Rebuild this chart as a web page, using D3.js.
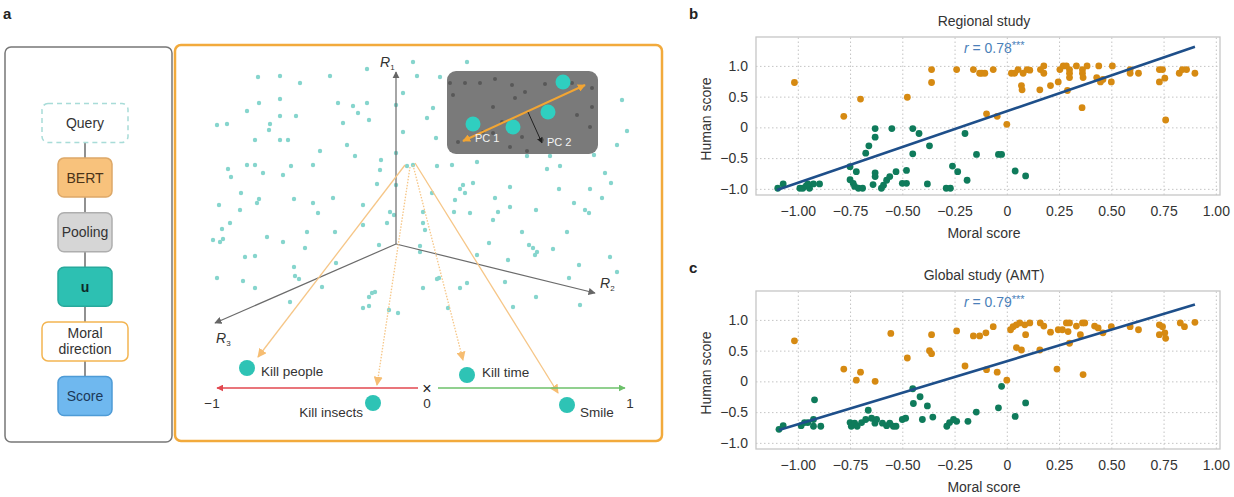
<!DOCTYPE html>
<meta charset="utf-8">
<style>
    body { margin: 0; background: #fff; }
    svg text { font-family: "Liberation Sans", Arial, sans-serif; fill: #333; }
    .ticks text { font-size: 14px; fill: #333; }
    .ticks .domain { display: none; }
    .grid line { stroke: #c4c4c4; stroke-dasharray: 1.5, 2.5; }
    .grid .domain { display: none; }
</style>
<body>
<svg id="fig" width="1234" height="497"></svg>
<script src="https://cdn.jsdelivr.net/npm/d3@7"></script>
<script>

// ---- panel a: pipeline ----
var pipelineSteps = ["Query", "BERT", "Pooling", "u", "Moral direction", "Score"];

// ---- panel a: embedding space (local units of the panel, 487 x 396) ----
var cloudDots = [
    [238,17],[292,17],[192,24],[83,32],[105,31],[155,31],[125,38],[242,31],[265,32],[84,58],
    [105,54],[163,58],[178,61],[192,58],[72,66],[105,71],[121,71],[183,68],[194,75],[228,48],
    [258,63],[252,73],[42,80],[52,79],[95,79],[94,85],[168,78],[80,95],[105,95],[113,95],
    [172,100],[228,87],[261,93],[447,55],[452,86],[442,100],[419,110],[352,111],[375,111],[145,106],
    [180,111],[72,120],[80,120],[53,124],[56,132],[88,128],[108,130],[116,121],[138,120],[206,115],
    [205,125],[221,108],[232,121],[238,120],[262,121],[277,120],[302,117],[335,142],[372,124],[385,121],
    [415,144],[430,128],[436,138],[285,144],[288,140],[290,148],[298,138],[66,148],[84,154],[82,158],
    [119,154],[138,158],[158,153],[202,139],[257,148],[280,155],[320,153],[335,162],[384,144],[399,158],
    [410,165],[414,168],[427,153],[44,160],[65,165],[143,168],[188,160],[215,167],[248,167],[279,167],
    [295,168],[323,167],[361,165],[47,184],[55,178],[92,192],[108,197],[132,187],[160,187],[130,203],
    [38,195],[45,197],[48,194],[188,180],[212,178],[248,178],[250,185],[318,175],[347,187],[392,187],
    [314,198],[354,200],[358,203],[362,207],[378,204],[404,220],[435,212],[70,212],[80,211],[119,222],
    [161,218],[204,200],[245,201],[264,233],[333,215],[394,233],[42,233],[442,227],[68,236],[80,243],
    [120,231],[124,234],[147,242],[200,247],[197,248],[194,252],[188,263],[194,261],[214,265],[223,268],
    [115,257],[248,243],[262,234],[273,263],[285,243],[292,238],[330,237],[361,252],[338,262],[405,260],
    [360,210],[302,210],[245,207],[221,60],[221,140],[219,170]
];
var insetDots = [
    [275,38],[290,38],[305,38],[320,34],[337,40],[350,47],[370,39],[397,38],[417,43],[278,50],
    [340,53],[318,62],[402,70],[417,62],[327,77],[415,82],[308,87],[318,88],[347,92],[283,97],
    [335,102],[367,95],[352,106]
];
var insetSamples = [[388,37],[373,67],[338,82],[298,79]];
var axisOrigin = [221, 199];
var axisEnds = [
    {name: "1", end: [221, 27], label: [205, 22]},
    {name: "2", end: [420, 248], label: [425, 243]},
    {name: "3", end: [40, 278], label: [41, 298]}
];
var queries = [
    {text: "Kill people", from: [230,120], to: [83,312], dot: [72,323], dotted: false},
    {text: "Kill insects", from: [235,122], to: [202,340], dot: [198,358], dotted: true},
    {text: "Kill time", from: [238,120], to: [288,315], dot: [292,330], dotted: true},
    {text: "Smile", from: [240,118], to: [383,348], dot: [392,360], dotted: false}
];

// ---- panels b, c ----
var xTicks = [-1, -0.75, -0.5, -0.25, 0, 0.25, 0.5, 0.75, 1];
var yTicks = [-1, -0.5, 0, 0.5, 1];

var regionalHigh = [
    [-1.016,0.73],[-0.78,0.18],[-0.70,0.46],[-0.476,0.49],[-0.36,0.94],[-0.36,0.73],[-0.24,0.94],[-0.16,0.94],
    [-0.13,0.88],[-0.12,0.88],[-0.105,0.88],[-0.065,0.94],[-0.097,0.22],[-0.046,0.18],[0.0,0.05],[0.022,0.88],
    [0.038,0.88],[0.054,0.94],[0.078,0.88],[0.097,0.94],[0.11,0.93],[0.07,0.68],[0.073,0.61],[0.158,0.61],
    [0.161,0.94],[0.177,1.0],[0.177,0.88],[0.209,0.68],[0.246,0.74],[0.254,0.94],[0.27,1.0],[0.285,1.0],
    [0.30,0.94],[0.29,0.60],[0.30,0.88],[0.30,0.81],[0.333,1.0],[0.362,0.94],[0.362,0.88],[0.365,0.81],
    [0.384,1.0],[0.36,0.32],[0.43,0.81],[0.44,1.0],[0.448,0.74],[0.46,0.78],[0.505,1.0],[0.50,0.74],
    [0.59,0.94],[0.59,0.88],[0.63,0.88],[0.73,0.94],[0.745,0.94],[0.73,0.74],[0.756,0.80],[0.76,0.12],
    [0.825,0.88],[0.84,0.94],[0.86,0.94],[0.90,0.88]
];
var regionalLow = [
    [-1.096,-0.99],[-1.07,-0.92],[-0.99,-0.99],[-0.976,-0.99],[-0.96,-0.95],[-0.944,-0.99],[-0.925,-0.92],
    [-0.896,-0.92],[-0.952,-0.92],[-0.75,-0.64],[-0.75,-0.85],[-0.735,-0.91],[-0.72,-0.72],[-0.728,-0.96],
    [-0.71,-0.99],[-0.69,-0.99],[-0.675,-0.42],[-0.66,-0.30],[-0.64,-0.93],[-0.63,-0.16],[-0.63,-0.02],
    [-0.63,-0.74],[-0.63,-0.80],[-0.60,-0.99],[-0.59,-0.94],[-0.575,-0.86],[-0.56,-0.80],[-0.55,-0.02],
    [-0.53,-0.72],[-0.50,-0.91],[-0.48,-0.91],[-0.48,-0.70],[-0.45,-0.43],[-0.45,-0.02],[-0.42,-0.10],
    [-0.38,-0.92],[-0.37,-0.30],[-0.29,-0.99],[-0.27,-0.99],[-0.26,-0.63],[-0.235,-0.72],[-0.20,-0.10],
    [-0.19,-0.86],[-0.145,-0.44],[-0.04,-0.44],[-0.025,-0.44],[0.04,-0.71],[0.09,-0.79]
];
var regionalFit = [[-1.1, -1.02], [0.9, 1.31]];

var globalHigh = [
    [-1.016,0.66],[-0.78,0.20],[-0.72,0.02],[-0.70,0.15],[-0.63,0.0],[-0.555,0.78],[-0.476,0.38],[-0.37,0.50],
    [-0.36,0.45],[-0.36,0.76],[-0.24,0.82],[-0.20,0.25],[-0.16,0.74],[-0.13,0.74],[-0.10,0.79],[-0.065,0.89],
    [-0.097,0.19],[-0.046,0.15],[0.0,0.02],[0.018,0.84],[0.03,0.89],[0.046,0.92],[0.062,0.95],[0.086,0.92],
    [0.11,0.95],[0.09,0.76],[0.046,0.55],[0.07,0.51],[0.158,0.51],[0.16,0.95],[0.177,0.90],[0.209,0.80],
    [0.246,0.84],[0.266,0.84],[0.285,0.95],[0.293,0.81],[0.30,0.95],[0.24,0.20],[0.30,0.62],[0.333,0.90],
    [0.352,0.76],[0.362,0.95],[0.373,0.95],[0.365,0.11],[0.42,0.90],[0.437,0.87],[0.46,0.79],[0.50,0.89],
    [0.59,0.89],[0.63,0.84],[0.73,0.92],[0.745,0.89],[0.73,0.76],[0.76,0.70],[0.756,0.79],[0.83,0.95],
    [0.85,0.89],[0.90,0.96]
];
var globalLow = [
    [-1.09,-0.78],[-1.07,-0.72],[-0.984,-0.72],[-0.968,-0.67],[-0.952,-0.67],[-0.925,-0.73],[-0.89,-0.73],
    [-0.92,-0.30],[-0.925,-0.62],[-0.75,-0.67],[-0.744,-0.73],[-0.728,-0.68],[-0.716,-0.73],[-0.695,-0.67],
    [-0.675,-0.62],[-0.663,-0.47],[-0.647,-0.60],[-0.631,-0.68],[-0.623,-0.62],[-0.595,-0.68],[-0.575,-0.72],
    [-0.56,-0.68],[-0.543,-0.73],[-0.53,-0.73],[-0.50,-0.62],[-0.484,-0.60],[-0.45,-0.12],[-0.447,-0.36],
    [-0.415,-0.25],[-0.404,-0.62],[-0.38,-0.40],[-0.354,-0.58],[-0.287,-0.73],[-0.274,-0.67],[-0.255,-0.62],
    [-0.24,-0.65],[-0.186,-0.65],[-0.146,-0.50],[-0.04,-0.43],[-0.025,-0.08],[0.04,-0.57],[0.09,-0.35]
];
var globalFit = [[-1.09, -0.79], [0.9, 1.25]];


var svg = d3.select("#fig");
var defs = svg.append("defs");

function marker(id, color, size) {
    defs.append("marker")
        .attr("id", id)
        .attr("viewBox", "0 0 10 10")
        .attr("refX", 9).attr("refY", 5)
        .attr("markerWidth", size).attr("markerHeight", size)
        .attr("orient", "auto-start-reverse")
        .append("path")
        .attr("d", "M0,0L10,5L0,10z")
        .attr("fill", color);
}
marker("arrGrey", "#666", 6);
marker("arrOrange", "#f6bd72", 7);
marker("arrPC1", "#f2a533", 4);
marker("arrBlack", "#222", 6);
marker("arrRed", "#e2474f", 5);
marker("arrGreen", "#6cc06a", 5);

// panel letters
svg.append("text").attr("x", 3).attr("y", 19).text("a").style("font-weight", "bold").style("font-size", "15px").style("fill", "#222");
svg.append("text").attr("x", 689).attr("y", 19).text("b").style("font-weight", "bold").style("font-size", "15px").style("fill", "#222");
svg.append("text").attr("x", 689).attr("y", 273).text("c").style("font-weight", "bold").style("font-size", "15px").style("fill", "#222");

// ---------------- pipeline box ----------------
var stepStyle = {
    "Query":           {fill: "#fff",    stroke: "#a8dcd8", text: "#333", dash: "5,4", wide: true},
    "BERT":            {fill: "#f8c27c", stroke: "#dda868", text: "#4a3318"},
    "Pooling":         {fill: "#d6d6d6", stroke: "#aeaeae", text: "#333"},
    "u":               {fill: "#2dc0b2", stroke: "#27a99c", text: "#0d2a28", bold: true},
    "Moral direction": {fill: "#fff",    stroke: "#f3b552", text: "#333", wide: true},
    "Score":           {fill: "#6fb8ef", stroke: "#4e9bd6", text: "#1c3858"}
};

var left = svg.append("g");
left.append("rect")
    .attr("x", 5).attr("y", 47).attr("width", 167).attr("height", 395).attr("rx", 6)
    .attr("fill", "none").attr("stroke", "#777").attr("stroke-width", 1.5);

var py = d3.scalePoint().domain(pipelineSteps).range([123, 396]);
var cx = 85;

left.append("line")
    .attr("x1", cx).attr("x2", cx)
    .attr("y1", py(pipelineSteps[0])).attr("y2", py(pipelineSteps[pipelineSteps.length - 1]))
    .attr("stroke", "#555").attr("stroke-width", 1.3);

var steps = left.selectAll("g.step").data(pipelineSteps).join("g")
    .attr("class", "step")
    .attr("transform", function (d) { return "translate(" + cx + "," + py(d) + ")"; });

steps.append("rect")
    .attr("x", function (d) { return stepStyle[d].wide ? -43 : -27; })
    .attr("width", function (d) { return stepStyle[d].wide ? 86 : 54; })
    .attr("y", -19.5).attr("height", 39).attr("rx", 6)
    .attr("fill", function (d) { return stepStyle[d].fill; })
    .attr("stroke", function (d) { return stepStyle[d].stroke; })
    .attr("stroke-width", 1.5)
    .attr("stroke-dasharray", function (d) { return stepStyle[d].dash || null; });

steps.each(function (d) {
    var words = d == "Moral direction" ? ["Moral", "direction"] : [d];
    var t = d3.select(this).append("text")
        .attr("text-anchor", "middle")
        .style("font-size", "14px")
        .style("fill", stepStyle[d].text)
        .style("font-weight", stepStyle[d].bold ? "bold" : null);
    words.forEach(function (w, i) {
        t.append("tspan").attr("x", 0)
            .attr("y", (i - (words.length - 1) / 2) * 16)
            .attr("dy", "0.35em").text(w);
    });
});

// ---------------- embedding panel ----------------
var ax = d3.scaleLinear().domain([0, 487]).range([175, 662]);
var ay = d3.scaleLinear().domain([0, 396]).range([45, 441]);

var pa = svg.append("g");
pa.append("rect")
    .attr("x", ax(0)).attr("y", ay(0)).attr("width", ax(487) - ax(0)).attr("height", ay(396) - ay(0))
    .attr("rx", 6).attr("fill", "none").attr("stroke", "#f2aa3c").attr("stroke-width", 2.5);

pa.selectAll("circle.cloud").data(cloudDots).join("circle")
    .attr("class", "cloud")
    .attr("cx", function (d) { return ax(d[0]); })
    .attr("cy", function (d) { return ay(d[1]); })
    .attr("r", 2.2)
    .attr("fill", "#86d5cd");

// inset
pa.append("rect")
    .attr("x", ax(272)).attr("y", ay(26)).attr("width", ax(423) - ax(272)).attr("height", ay(109) - ay(26))
    .attr("rx", 9).attr("fill", "#7a7a7a");
pa.selectAll("circle.inset").data(insetDots).join("circle")
    .attr("cx", function (d) { return ax(d[0]); })
    .attr("cy", function (d) { return ay(d[1]); })
    .attr("r", 2).attr("fill", "#585858");
pa.selectAll("circle.sample").data(insetSamples).join("circle")
    .attr("cx", function (d) { return ax(d[0]); })
    .attr("cy", function (d) { return ay(d[1]); })
    .attr("r", 7.5).attr("fill", "#2fcfc0");
pa.append("line")
    .attr("x1", ax(288)).attr("y1", ay(96)).attr("x2", ax(410)).attr("y2", ay(40))
    .attr("stroke", "#f2a533").attr("stroke-width", 2)
    .attr("marker-start", "url(#arrPC1)").attr("marker-end", "url(#arrPC1)");
pa.append("line")
    .attr("x1", ax(353)).attr("y1", ay(67)).attr("x2", ax(367)).attr("y2", ay(98))
    .attr("stroke", "#222").attr("stroke-width", 1)
    .attr("marker-end", "url(#arrBlack)");
pa.append("text").attr("x", ax(300)).attr("y", ay(97)).text("PC 1")
    .style("font-size", "11px").style("fill", "#f4f4f4");
pa.append("text").attr("x", ax(372)).attr("y", ay(101)).text("PC 2")
    .style("font-size", "11px").style("fill", "#f4f4f4");

// axes R1..R3
axisEnds.forEach(function (a) {
    pa.append("line")
        .attr("x1", ax(axisOrigin[0])).attr("y1", ay(axisOrigin[1]))
        .attr("x2", ax(a.end[0])).attr("y2", ay(a.end[1]))
        .attr("stroke", "#6b6b6b").attr("stroke-width", 1.2)
        .attr("marker-end", "url(#arrGrey)");
    var t = pa.append("text").attr("x", ax(a.label[0])).attr("y", ay(a.label[1]))
        .style("font-size", "14px").style("fill", "#333");
    t.append("tspan").text("R").style("font-style", "italic");
    t.append("tspan").text(a.name).attr("dy", 3).style("font-size", "8px");
});

// projection guides
pa.selectAll("line.guide").data(queries).join("line")
    .attr("x1", function (d) { return ax(d.from[0]); })
    .attr("y1", function (d) { return ay(d.from[1]); })
    .attr("x2", function (d) { return ax(d.to[0]); })
    .attr("y2", function (d) { return ay(d.to[1]); })
    .attr("stroke", "#f6c687").attr("stroke-width", 1.3)
    .attr("stroke-dasharray", function (d) { return d.dotted ? "1.5,1.5" : null; })
    .attr("marker-end", "url(#arrOrange)");

// moral axis
var axY = 343;
pa.append("line").attr("x1", ax(243)).attr("x2", ax(42)).attr("y1", ay(axY)).attr("y2", ay(axY))
    .attr("stroke", "#e2474f").attr("stroke-width", 1.4).attr("marker-end", "url(#arrRed)");
pa.append("line").attr("x1", ax(263)).attr("x2", ax(450)).attr("y1", ay(axY)).attr("y2", ay(axY))
    .attr("stroke", "#6cc06a").attr("stroke-width", 1.4).attr("marker-end", "url(#arrGreen)");
pa.append("text").attr("x", ax(252)).attr("y", ay(axY)).attr("dy", "0.35em").attr("text-anchor", "middle")
    .text("×").style("font-size", "16px").style("fill", "#222");
[["0", 252], ["\u22121", 37], ["1", 455]].forEach(function (d) {
    pa.append("text").attr("x", ax(d[1])).attr("y", ay(363)).attr("text-anchor", "middle")
        .text(d[0]).style("font-size", "13.5px");
});

pa.selectAll("circle.query").data(queries).join("circle")
    .attr("cx", function (d) { return ax(d.dot[0]); })
    .attr("cy", function (d) { return ay(d.dot[1]); })
    .attr("r", 8).attr("fill", "#2ec3b5");

var labelPos = {
    "Kill people": [86, 331, "start"],
    "Kill insects": [188, 372, "end"],
    "Kill time": [307, 332, "start"],
    "Smile": [405, 372, "start"]
};
pa.selectAll("text.query").data(queries).join("text")
    .attr("x", function (d) { return ax(labelPos[d.text][0]); })
    .attr("y", function (d) { return ay(labelPos[d.text][1]); })
    .attr("text-anchor", function (d) { return labelPos[d.text][2]; })
    .text(function (d) { return d.text; })
    .style("font-size", "13.5px");

// ---------------- scatter panels ----------------
function minus(s) { return s.replace("-", "\u2212"); }
var fmtX = function (d) { return d === 0 ? "0" : minus(d3.format(".2f")(d)); };
var fmtY = function (d) { return d === 0 ? "0" : minus(d3.format(".1f")(d)); };

function scatter(top, title, rValue, high, low, fit) {
    var h = 158, L = 756, R = 1220;
    var x = d3.scaleLinear().domain([-1.2, 1.02]).range([L, R]);
    var y = d3.scaleLinear().domain([-1.1, 1.47]).range([top + h, top]);
    var g = svg.append("g");

    g.append("g").attr("class", "grid").attr("transform", "translate(0," + (top + h) + ")")
        .call(d3.axisBottom(x).tickValues(xTicks).tickSize(-h).tickFormat(""));
    g.append("g").attr("class", "grid").attr("transform", "translate(" + L + ",0)")
        .call(d3.axisLeft(y).tickValues(yTicks).tickSize(-(R - L)).tickFormat(""));

    g.append("rect").attr("x", L).attr("y", top).attr("width", R - L).attr("height", h)
        .attr("fill", "none").attr("stroke", "#c6c6c6").attr("stroke-width", 1.3);

    g.append("g").attr("class", "ticks").attr("transform", "translate(0," + (top + h) + ")")
        .call(d3.axisBottom(x).tickValues(xTicks).tickSize(0).tickPadding(11).tickFormat(fmtX));
    g.append("g").attr("class", "ticks").attr("transform", "translate(" + L + ",0)")
        .call(d3.axisLeft(y).tickValues(yTicks).tickSize(0).tickPadding(8).tickFormat(fmtY));

    g.selectAll("circle.hi").data(high).join("circle")
        .attr("cx", function (d) { return x(d[0]); })
        .attr("cy", function (d) { return y(d[1]); })
        .attr("r", 3.4).attr("fill", "#d68a12");
    g.selectAll("circle.lo").data(low).join("circle")
        .attr("cx", function (d) { return x(d[0]); })
        .attr("cy", function (d) { return y(d[1]); })
        .attr("r", 3.4).attr("fill", "#0f7b5b");

    g.append("line")
        .attr("x1", x(fit[0][0])).attr("y1", y(fit[0][1]))
        .attr("x2", x(fit[1][0])).attr("y2", y(fit[1][1]))
        .attr("stroke", "#1e4f8a").attr("stroke-width", 2.6);

    var rt = g.append("text").attr("x", x(-0.06)).attr("y", top + 16).attr("text-anchor", "middle")
        .style("font-size", "14px").style("fill", "#4b7fb9");
    rt.append("tspan").text("r").style("font-style", "italic").style("fill", "#4b7fb9");
    rt.append("tspan").text(" = " + rValue).style("fill", "#4b7fb9");
    rt.append("tspan").text("***").attr("dy", -4).style("font-size", "11px").style("fill", "#4b7fb9");

    g.append("text").attr("x", (L + R) / 2 - 4).attr("y", top - 11).attr("text-anchor", "middle")
        .text(title).style("font-size", "14px");
    g.append("text").attr("x", (L + R) / 2 - 4).attr("y", top + h + 43).attr("text-anchor", "middle")
        .text("Moral score").style("font-size", "14px");
    g.append("text").attr("transform", "translate(711," + (top + h / 2 + 3) + ") rotate(-90)")
        .attr("text-anchor", "middle").text("Human score").style("font-size", "14px");
}

scatter(37, "Regional study", "0.78", regionalHigh, regionalLow, regionalFit);
scatter(291, "Global study (AMT)", "0.79", globalHigh, globalLow, globalFit);
</script>
</body>
